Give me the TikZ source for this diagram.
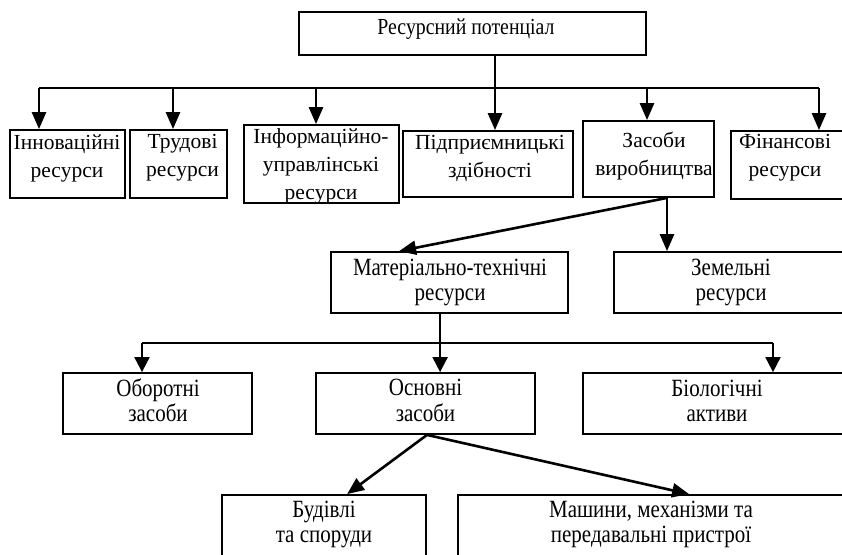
\documentclass[tikz,border=0pt]{standalone}
\usepackage{graphicx}
\usepackage{fontspec}
\setmainfont{Liberation Serif}
\usetikzlibrary{arrows.meta}

% tall, slightly narrow lines of text, centred
\newcommand{\tallines}[2][1.18]{\scalebox{1}[#1]{\begin{tabular}{@{}c@{}}#2\end{tabular}}}

\begin{document}
\begin{tikzpicture}[x=1pt,y=-1pt,
  box/.style={draw, line width=1.8pt, rectangle, inner sep=0pt},
  lblA/.style={align=center, inner sep=0pt, font=\fontsize{21.5}{28}\selectfont},
  lblB/.style={inner sep=0pt, font=\fontsize{21}{21.2}\selectfont},
  lblT/.style={inner sep=0pt, font=\fontsize{19.8}{20}\selectfont},
  link/.style={line width=2.4pt},
  linkB/.style={line width=2pt},
  arr/.style={line width=2.6pt, -{Triangle[width=14pt,length=17pt]}},
  arrB/.style={line width=2pt, -{Triangle[width=15pt,length=15pt]}},
]
\useasboundingbox (0,0) rectangle (842,554);
\clip (0,0) rectangle (842,554);

% --- boxes ---
\node[box, minimum width=347pt, minimum height=43pt] (top)  at (472.5,33.5) {};
\node[box, minimum width=115pt, minimum height=68pt] (inn)  at (67.5,164) {};
\node[box, minimum width=97pt,  minimum height=68pt] (tru)  at (178.5,164) {};
\node[box, minimum width=155pt, minimum height=78pt] (inf)  at (321.5,164) {};
\node[box, minimum width=170pt, minimum height=66pt] (pid)  at (488,164) {};
\node[box, minimum width=131pt, minimum height=76pt] (zas)  at (648.5,159) {};
\node[box, minimum width=139pt, minimum height=68pt] (fin)  at (800.5,165) {};
\node[box, minimum width=237pt, minimum height=61pt] (mat)  at (449.5,282.5) {};
\node[box, minimum width=256pt, minimum height=61pt] (zem)  at (742,282.5) {};
\node[box, minimum width=189pt, minimum height=61pt] (obo)  at (157.5,403.5) {};
\node[box, minimum width=219pt, minimum height=61pt] (osn)  at (425.5,403.5) {};
\node[box, minimum width=287pt, minimum height=61pt] (bio)  at (726.5,403.5) {};
\node[box, minimum width=204pt, minimum height=85pt] (bud)  at (324,537.5) {};
\node[box, minimum width=412pt, minimum height=85pt] (mash) at (664,537.5) {};

% --- labels ---
\node[lblT] (top-t)  at (466,30)    {\tallines[1.16]{Ресурсний потенціал}};
\node[lblA] (inn-t)  at (67,158)    {Інноваційні\\ресурси};
\node[lblA] (tru-t)  at (182.5,158) {Трудові\\ресурси};
\node[lblA] (inf-t)  at (321,166)   {Інформаційно-\\управлінські\\ресурси};
\node[lblA] (pid-t)  at (490,158)   {Підприємницькі\\здібності};
\node[lblA] (zas-t)  at (654,156)   {Засоби\\виробництва};
\node[lblA] (fin-t)  at (785,158)   {Фінансові\\ресурси};
\node[lblB] (mat-t)  at (450,283)   {\tallines{Матеріально-технічні\\ресурси}};
\node[lblB] (zem-t)  at (731,283)   {\tallines{Земельні\\ресурси}};
\node[lblB] (obo-t)  at (158,403.5) {\tallines{Оборотні\\засоби}};
\node[lblB] (osn-t)  at (425.5,403.5) {\tallines{Основні\\засоби}};
\node[lblB] (bio-t)  at (717,403.5) {\tallines{Біологічні\\активи}};
\node[lblB] (bud-t)  at (324,524.5) {\tallines{Будівлі\\та споруди}};
\node[lblB] (mash-t) at (651,524.5) {\tallines{Машини, механізми та\\передавальні пристрої}};

% --- first level: from the top box to six resource groups ---
\coordinate (b1) at (39,88);
\coordinate (b2) at (173,88);
\coordinate (b3) at (316,88);
\coordinate (b4) at (495,88);
\coordinate (b5) at (647,88);
\coordinate (b6) at (819,88);
\draw[link] ([xshift=22.5pt]top.south) -- (b4);
\draw[link] (b1) -- (b6);
\draw[arr] (b1) -- (b1 |- inn.north);
\draw[arr] (b2) -- (b2 |- tru.north);
\draw[arr] (b3) -- (b3 |- inf.north);
\draw[arr] (b4) -- (b4 |- pid.north);
\draw[arr] (b5) -- (b5 |- zas.north);
\draw[arr] (b6) -- (b6 |- fin.north);

% --- means of production ---
\coordinate (z0) at ([xshift=18.5pt]zas.south);
\draw[arr] (z0) -- ([xshift=69pt]mat.north west);
\draw[arr] (z0) -- (z0 |- zem.north);

% --- material and technical resources ---
\coordinate (m0) at ([xshift=110pt]mat.south west);
\coordinate (c1) at (142,343);
\coordinate (c3) at (773,343);
\draw[linkB] (m0) -- (m0 |- c1);
\draw[linkB] (c1) -- (c3);
\draw[arrB] (c1) -- (c1 |- obo.north);
\draw[arrB] (m0 |- c1) -- (m0 |- osn.north);
\draw[arrB] (c3) -- (c3 |- bio.north);

% --- fixed assets ---
\coordinate (o0) at ([xshift=1.5pt]osn.south);
\draw[arr] (o0) -- ([xshift=126pt]bud.north west);
\draw[arr] (o0) -- ([xshift=232pt]mash.north west);
\end{tikzpicture}
\end{document}
